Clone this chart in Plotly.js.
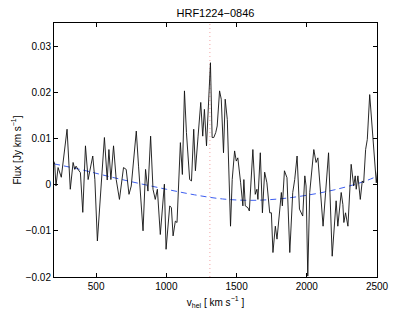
<!DOCTYPE html>
<html>
<head>
<meta charset="utf-8">
<script src="https://cdn.plot.ly/plotly-3.0.1.min.js"></script>
<style>html,body{margin:0;padding:0;background:#fff;}#chart{width:415px;height:312px;}</style>
</head>
<body>
<div id="chart"></div>
<script>
// Spectrum (velocity in km/s, flux in Jy km/s)
const velocity = [200,205,214,229,252,293,316,336,348,357,371,388,405,424,443,476,491,509,559,579,591,605,624,643,666,695,714,734,750,786,802,834,852,869,888,905,921,936,957,986,998,1024,1036,1048,1064,1076,1100,1114,1129,1143,1166,1179,1195,1207,1226,1245,1259,1271,1286,1314,1326,1338,1352,1362,1379,1391,1407,1419,1434,1457,1469,1486,1498,1509,1529,1545,1552,1562,1581,1591,1616,1633,1645,1652,1669,1684,1700,1716,1736,1748,1759,1776,1788,1812,1819,1826,1841,1859,1879,1900,1914,1931,1948,1971,1986,1995,2007,2021,2050,2066,2079,2098,2116,2134,2155,2181,2202,2209,2221,2245,2257,2264,2276,2293,2316,2334,2345,2352,2364,2381,2395,2405,2419,2431,2448,2455,2486,2495,2507];
const flux = [0.0050,0.0044,-0.0003,0.0037,0.0016,0.0120,-0.0010,0.0048,0.0033,0.0040,0.0033,0.0026,-0.0060,0.0084,0.0011,0.0062,0.0011,-0.0122,0.0102,0.0010,0.0076,0.0011,0.0084,0.0011,-0.0032,0.0037,0.0033,-0.0021,-0.0003,0.0116,0.0040,-0.0100,0.0033,-0.0014,0.0105,-0.0010,-0.0032,-0.0010,-0.0108,0.0001,-0.0140,-0.0046,-0.0050,-0.0111,-0.0079,-0.0082,0.0091,0.0022,0.0203,0.0113,0.0011,0.0008,0.0120,0.0030,0.0105,0.0178,0.0105,0.0163,0.0084,0.0264,0.0102,0.0102,0.0113,0.0127,0.0203,0.0185,0.0069,0.0185,0.0141,-0.0090,0.0011,0.0073,0.0051,0.0058,0.0004,-0.0046,0.0011,-0.0046,-0.0050,-0.0057,0.0076,-0.0021,-0.0010,-0.0032,0.0069,-0.0061,0.0027,0.0004,-0.0061,-0.0061,-0.0147,-0.0090,-0.0118,-0.0025,-0.0017,-0.0046,0.0030,0.0015,-0.0147,-0.0017,0.0011,0.0062,-0.0053,-0.0068,0.0019,-0.0003,-0.0198,-0.0017,0.0076,0.0048,0.0058,-0.0017,-0.0090,-0.0017,0.0069,-0.0155,-0.0046,-0.0035,-0.0090,-0.0017,-0.0043,-0.0082,-0.0061,-0.0090,0.0044,-0.0003,0.0019,-0.0010,0.0019,-0.0032,0.0008,0.0004,0.0076,0.0098,0.0195,0.0163,0.0040,0.0004,0.0040];

// Fitted baseline (blue dashed), read at sample velocities
const baseVel = [200,400,600,800,1000,1200,1400,1600,1800,2000,2200,2400,2500];
const baseFlux = [0.0045,0.0032,0.0017,0.0003,-0.0010,-0.0022,-0.0031,-0.0034,-0.0031,-0.0023,-0.0011,0.0006,0.0018];

// Systemic velocity marker
const vSys = 1310;

const xTicks = [500,1000,1500,2000,2500];
const yTicks = [-0.02,-0.01,0,0.01,0.02,0.03];
const yTickText = ['\u22120.02','\u22120.01','0','0.01','0.02','0.03'];

const font = 'Liberation Sans, Arial, Helvetica, sans-serif';

const traces = [
  {x: baseVel, y: baseFlux, type: 'scatter', mode: 'lines',
   line: {color: '#3d5ef0', width: 1, dash: '6px,4px', shape: 'spline'}, hoverinfo: 'skip'},
  {x: velocity, y: flux, type: 'scatter', mode: 'lines',
   line: {color: '#111', width: 0.9}, hoverinfo: 'skip'}
];

const layout = {
  width: 415, height: 312,
  margin: {l: 54, r: 38, t: 23, b: 35},
  paper_bgcolor: '#fff', plot_bgcolor: '#fff',
  showlegend: false,
  font: {family: font, size: 10, color: '#000'},
  title: {text: 'HRF1224\u22120846', x: 0.5, xref: 'paper', xanchor: 'center',
          y: 0.957, yref: 'container', yanchor: 'middle',
          font: {family: font, size: 11, color: '#000'}},
  xaxis: {range: [200, 2500], tickvals: xTicks, ticktext: xTicks.map(String),
          ticks: 'inside', ticklen: 4, tickcolor: '#000', mirror: 'ticks',
          showline: true, linecolor: '#000', linewidth: 1, showgrid: false, zeroline: false,
          tickfont: {size: 10},
          title: {text: 'v<sub>hel</sub> [ km s<sup>\u22121</sup> ]', standoff: 7, font: {size: 10}}},
  yaxis: {range: [-0.02, 0.035], tickvals: yTicks, ticktext: yTickText,
          ticks: 'inside', ticklen: 4, tickcolor: '#000', mirror: 'ticks',
          showline: true, linecolor: '#000', linewidth: 1, showgrid: false, zeroline: false,
          tickfont: {size: 10},
          title: {text: 'Flux [Jy km s<sup>\u22121</sup>]', standoff: 2, font: {size: 10}}},
  shapes: [{type: 'line', xref: 'x', yref: 'paper', x0: vSys, x1: vSys, y0: 0, y1: 1,
            line: {color: '#f2a6a6', width: 1, dash: '1px,3px'}, layer: 'below'}]
};

Plotly.newPlot('chart', traces, layout, {staticPlot: true, displayModeBar: false});
</script>
</body>
</html>
